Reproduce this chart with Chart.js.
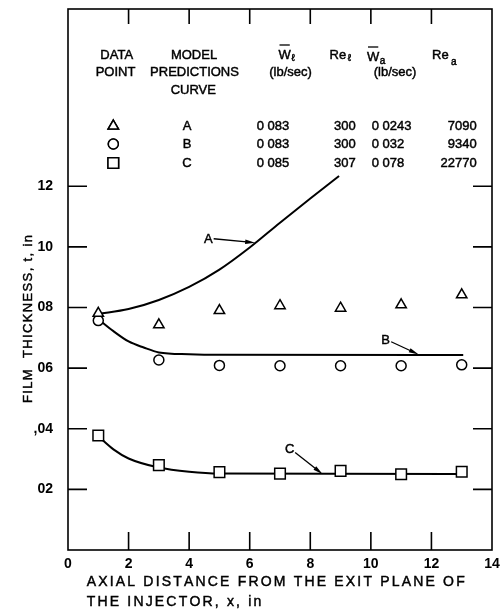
<!DOCTYPE html>
<html>
<head>
<meta charset="utf-8">
<script src="https://cdn.jsdelivr.net/npm/chart.js@4"></script>
<style>
  html, body { margin: 0; padding: 0; background: #fff; }
  canvas { display: block; }
</style>
</head>
<body>
<canvas id="c" width="501" height="611"></canvas>
<script>
// measured points, x in inches, t in inches
const xMeasured = [1, 3, 5, 7, 9, 11, 13];
const triangleY = [0.0781, 0.0743, 0.0790, 0.0806, 0.0798, 0.0809, 0.0842];
const circleY = [0.0757, 0.0627, 0.0609, 0.0608, 0.0608, 0.0608, 0.0611];
const squareY = [0.0378, 0.0280, 0.0257, 0.0252, 0.0261, 0.0250, 0.0258];

// model prediction curves A, B, C
const curveAX = [1, 2, 3, 4, 5, 6, 7, 8, 8.95];
const curveAY = [0.0779, 0.0795, 0.0825, 0.0868, 0.0925, 0.0998, 0.1080, 0.1160, 0.1234];
const curveBX = [1, 1.5, 2, 2.5, 3, 4, 5, 13.05];
const curveBY = [0.0762, 0.0722, 0.0688, 0.0668, 0.0652, 0.0646, 0.0644, 0.0643];
const curveCX = [1, 1.5, 2, 3, 4, 5, 13];
const curveCY = [0.0375, 0.0332, 0.0302, 0.0272, 0.0258, 0.0252, 0.0251];

const xTickValues = [0, 2, 4, 6, 8, 10, 12, 14];
const xTickLabels = ["0", "2", "4", "6", "8", "10", "12", "14"];
const yTickValues = [0.02, 0.04, 0.06, 0.08, 0.10, 0.12];
const yTickLabels = ["02", ",04", "06", "08", "10", "12"];

// table in the upper part of the plot
const tableSymbols = ["triangle", "circle", "rect"];
const tableCurves = ["A", "B", "C"];
const tableWl = ["0 083", "0 083", "0 085"];
const tableRel = ["300", "300", "307"];
const tableWa = ["0 0243", "0 032", "0 078"];
const tableRea = ["7090", "9340", "22770"];

const xTitle = ["AXIAL DISTANCE FROM THE EXIT PLANE OF", "THE INJECTOR, x, in"];
const yTitle = "FILM  THICKNESS, t, in";

// curve labels with arrows, in data units
const curveNotes = [
  { text: "A", x: 4.63, y: 0.1025, fromX: 4.81, fromY: 0.1027, toX: 6.18, toY: 0.1014 },
  { text: "B", x: 10.49, y: 0.0693, fromX: 10.67, fromY: 0.0687, toX: 11.58, toY: 0.0645 },
  { text: "C", x: 7.32, y: 0.0331, fromX: 7.50, fromY: 0.0322, toX: 8.41, toY: 0.0250 },
];

const FONT = '"Liberation Sans", Arial, sans-serif';
const font = s => `${s}px ${FONT}`;
const pts = (xs, ys) => xs.map((x, i) => ({ x, y: ys[i] }));

const MARK = { triangle: 6, circle: 5, rect: 7.5 };

// filled text with a thin outline, the scan lettering is fairly heavy
function say(ctx, s, x, y) {
  ctx.fillText(s, x, y);
  ctx.strokeText(s, x, y);
}
function spacedWidth(ctx, s, gap) {
  let w = 0;
  for (const ch of s) w += ctx.measureText(ch).width + gap;
  return w - gap;
}
function spaced(ctx, s, x, y, gap) {
  for (const ch of s) { say(ctx, ch, x, y); x += ctx.measureText(ch).width + gap; }
}

function arrow(ctx, x0, y0, x1, y1) {
  const ang = Math.atan2(y1 - y0, x1 - x0);
  const len = 10, half = 2.2;
  ctx.beginPath();
  ctx.moveTo(x0, y0);
  ctx.lineTo(x1 - Math.cos(ang) * len * 0.6, y1 - Math.sin(ang) * len * 0.6);
  ctx.stroke();
  ctx.beginPath();
  ctx.moveTo(x1, y1);
  ctx.lineTo(x1 - Math.cos(ang) * len - Math.sin(ang) * half, y1 - Math.sin(ang) * len + Math.cos(ang) * half);
  ctx.lineTo(x1 - Math.cos(ang) * len + Math.sin(ang) * half, y1 - Math.sin(ang) * len - Math.cos(ang) * half);
  ctx.closePath();
  ctx.fill();
}

function overW(ctx, x, y, sub, subDx, subDy) {
  // W with a bar on top and a small subscript
  ctx.font = font(13);
  ctx.textAlign = "left";
  say(ctx, "W", x, y);
  const w = ctx.measureText("W").width;
  ctx.save();
  ctx.lineWidth = 1.3;
  ctx.beginPath();
  ctx.moveTo(x + 1, y - 10);
  ctx.lineTo(x + w - 1, y - 10);
  ctx.stroke();
  ctx.restore();
  ctx.font = font(10);
  say(ctx, sub, x + w + subDx, y + subDy);
}

const frame = {
  id: "frame",
  beforeDatasetsDraw(chart) {
    const { ctx, chartArea: a, scales: { x, y } } = chart;
    ctx.save();
    ctx.strokeStyle = "#000";
    ctx.lineWidth = 1.6;
    ctx.strokeRect(a.left, a.top, a.right - a.left, a.bottom - a.top);
    ctx.beginPath();
    xTickValues.slice(1, -1).forEach(v => {
      const px = x.getPixelForValue(v);
      ctx.moveTo(px, a.bottom); ctx.lineTo(px, a.bottom - 18);
      ctx.moveTo(px, a.top); ctx.lineTo(px, a.top + 15);
    });
    yTickValues.forEach(v => {
      const py = y.getPixelForValue(v);
      ctx.moveTo(a.left, py); ctx.lineTo(a.left + 19, py);
      ctx.moveTo(a.right, py); ctx.lineTo(a.right - 19, py);
    });
    ctx.stroke();
    ctx.restore();
  },
  afterDraw(chart) {
    const { ctx, scales: { x, y } } = chart;
    ctx.save();
    ctx.fillStyle = "#000";
    ctx.strokeStyle = "#000";
    ctx.lineWidth = 0.45;
    ctx.textBaseline = "middle";

    // table header
    ctx.font = font(13);
    ctx.textAlign = "center";
    say(ctx, "DATA", 116.7, 55);
    say(ctx, "POINT", 115.5, 72.7);
    say(ctx, "MODEL", 194, 55);
    say(ctx, "PREDICTIONS", 194.5, 72.7);
    say(ctx, "CURVE", 193.3, 90.7);
    say(ctx, "(lb/sec)", 290.5, 72.7);
    say(ctx, "(lb/sec)", 395, 72.7);
    overW(ctx, 278.5, 55, "\u2113", 0.5, 3);
    overW(ctx, 367, 57, "a", 0.5, 4);
    ctx.font = font(13);
    ctx.textAlign = "left";
    say(ctx, "Re", 329.5, 55);
    say(ctx, "Re", 432, 55);
    ctx.font = font(10);
    say(ctx, "\u2113", 347.5, 58);
    say(ctx, "a", 451, 62);

    // table rows
    const rowY = [126, 144, 163];
    tableSymbols.forEach((sym, i) => {
      ctx.save();
      ctx.lineWidth = 1.5;
      ctx.fillStyle = "#fff";
      Chart.helpers.drawPoint(ctx, { pointStyle: sym, radius: MARK[sym], rotation: 0, borderWidth: 1.5 }, 113.3, rowY[i]);
      ctx.fill();
      ctx.stroke();
      ctx.restore();
      ctx.font = font(13);
      ctx.textAlign = "center";
      say(ctx, tableCurves[i], 187, rowY[i]);
      ctx.textAlign = "left";
      say(ctx, tableWl[i], 256.7, rowY[i]);
      say(ctx, tableRel[i], 334, rowY[i]);
      say(ctx, tableWa[i], 371.7, rowY[i]);
      ctx.textAlign = "right";
      say(ctx, tableRea[i], 476.7, rowY[i]);
    });

    // curve labels
    ctx.font = font(13);
    ctx.textAlign = "center";
    curveNotes.forEach(n => {
      say(ctx, n.text, x.getPixelForValue(n.x), y.getPixelForValue(n.y));
      ctx.save();
      ctx.lineWidth = 1.3;
      arrow(ctx, x.getPixelForValue(n.fromX), y.getPixelForValue(n.fromY),
        x.getPixelForValue(n.toX), y.getPixelForValue(n.toY));
      ctx.restore();
    });

    // x title, two left aligned lines
    ctx.font = font(14);
    ctx.textAlign = "left";
    const w0 = spacedWidth(ctx, xTitle[0], 0);
    const gap = (378 - w0) / (xTitle[0].length - 1);
    spaced(ctx, xTitle[0], 86.7, 582, gap);
    spaced(ctx, xTitle[1], 86.7, 602, gap);

    // y title
    ctx.font = font(13);
    ctx.translate(28, 319);
    ctx.rotate(-Math.PI / 2);
    const wy0 = spacedWidth(ctx, yTitle, 0);
    const gy = (168 - wy0) / (yTitle.length - 1);
    spaced(ctx, yTitle, -84, 0, gy);
    ctx.restore();
  }
};

const curveStyle = {
  showLine: true, pointRadius: 0, borderColor: "#000", borderWidth: 2,
  cubicInterpolationMode: "monotone", order: 2,
};
const markStyle = sym => ({
  pointStyle: sym, pointRadius: MARK[sym], borderColor: "#000",
  backgroundColor: "#fff", pointBorderWidth: 1.5, order: 0,
});

const tickFont = { family: FONT, size: 14, weight: "bold" };

new Chart(document.getElementById("c"), {
  type: "scatter",
  data: {
    datasets: [
      { label: "A", data: pts(curveAX, curveAY), ...curveStyle },
      { label: "B", data: pts(curveBX, curveBY), ...curveStyle },
      { label: "C", data: pts(curveCX, curveCY), ...curveStyle },
      { label: "triangle", data: pts(xMeasured, triangleY), ...markStyle("triangle") },
      { label: "circle", data: pts(xMeasured, circleY), ...markStyle("circle") },
      { label: "square", data: pts(xMeasured, squareY), ...markStyle("rect") },
    ],
  },
  options: {
    responsive: false,
    animation: false,
    devicePixelRatio: 1,
    events: [],
    layout: { padding: { top: 7.5, right: 5.5, left: 0, bottom: 0 } },
    plugins: { legend: { display: false }, tooltip: { enabled: false } },
    scales: {
      x: {
        type: "linear", min: 0, max: 14,
        grid: { display: false, drawTicks: false, tickLength: 0 }, border: { display: false },
        afterBuildTicks: s => { s.ticks = xTickValues.map(v => ({ value: v })); },
        afterFit: s => { s.height = 61; s.paddingLeft = 0; s.paddingRight = 0; },
        ticks: {
          color: "#000", font: tickFont, padding: 6,
          maxRotation: 0, autoSkip: false,
          callback: (v, i) => xTickLabels[i],
        },
      },
      y: {
        type: "linear", min: 0, max: 0.1785,
        grid: { display: false, drawTicks: false, tickLength: 0 }, border: { display: false },
        afterBuildTicks: s => { s.ticks = yTickValues.map(v => ({ value: v })); },
        afterFit: s => { s.width = 68; s.paddingTop = 0; s.paddingBottom = 0; },
        ticks: {
          color: "#000", font: tickFont, padding: 15,
          autoSkip: false,
          callback: (v, i) => yTickLabels[i],
        },
      },
    },
  },
  plugins: [frame],
});
</script>
</body>
</html>
